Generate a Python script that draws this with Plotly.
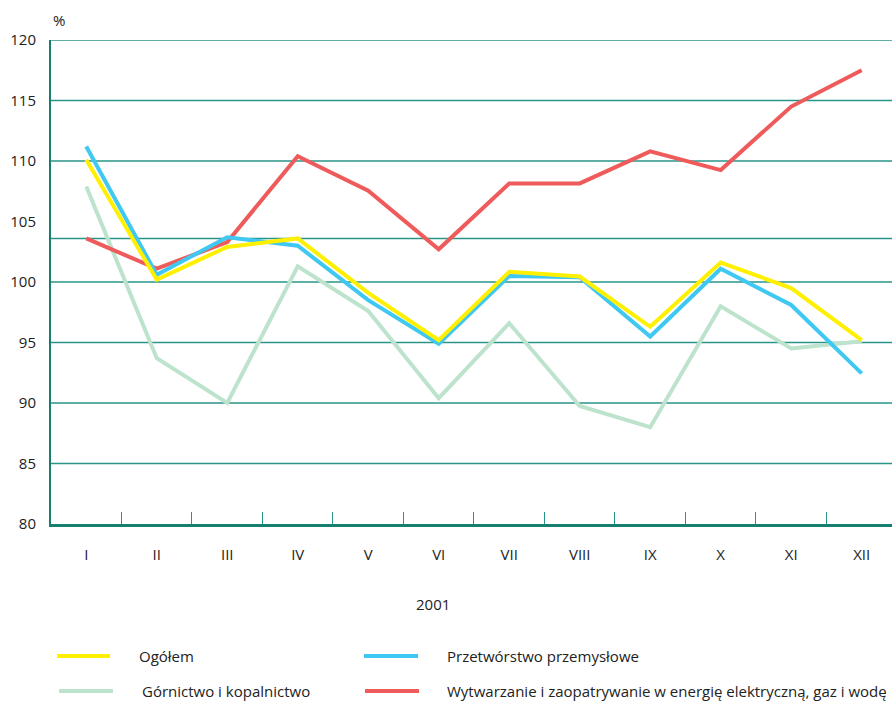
import plotly.graph_objects as go

MONTHS = ["I", "II", "III", "IV", "V", "VI", "VII", "VIII", "IX", "X", "XI", "XII"]
OGOLEM = [110.1, 100.2, 102.9, 103.6, 99.1, 95.2, 100.85, 100.45, 96.3, 101.6, 99.5, 95.2]
PRZETWORSTWO = [111.2, 100.6, 103.7, 103.0, 98.5, 94.9, 100.5, 100.4, 95.5, 101.1, 98.1, 92.45]
GORNICTWO = [107.9, 93.7, 90.0, 101.3, 97.6, 90.4, 96.6, 89.75, 88.0, 98.0, 94.5, 95.1]
WYTWARZANIE = [103.6, 101.1, 103.3, 110.4, 107.55, 102.7, 108.15, 108.15, 110.8, 109.25, 114.5, 117.5]

NAMES = ["Ogółem", "Przetwórstwo przemysłowe", "Górnictwo i kopalnictwo",
         "Wytwarzanie i zaopatrywanie w energię elektryczną, gaz i wodę"]
Y_TICKS = [80, 85, 90, 95, 100, 105, 110, 115, 120]
GRID_LINES = [85, 90, 95, 100, 103.6, 110, 115, 120]

C_YELLOW = "#fff000"
C_BLUE = "#3ec8f2"
C_GREEN = "#bde3cd"
C_RED = "#ef5b5b"
TEAL = "#2a9488"
TEAL_DARK = "#168070"
FONT = "Open Sans, sans-serif"
FS = 15
TXT = "#222"

fig = go.Figure()
series = [
    (GORNICTWO, C_GREEN, NAMES[2]),
    (WYTWARZANIE, C_RED, NAMES[3]),
    (PRZETWORSTWO, C_BLUE, NAMES[1]),
    (OGOLEM, C_YELLOW, NAMES[0]),
]
for vals, col, nm in series:
    fig.add_trace(go.Scatter(x=MONTHS, y=vals, mode="lines", name=nm,
                             line=dict(color=col, width=4), showlegend=False,
                             cliponaxis=False))

shapes = []
for g in GRID_LINES:
    shapes.append(dict(type="line", xref="paper", yref="y", x0=0, x1=1, y0=g, y1=g,
                       line=dict(color=TEAL, width=1.5), layer="below"))

# custom legend (pixel positions converted to paper coords)
L, T, W, H = 51, 40, 841, 484
def px(x):
    return (x - L) / W
def py(y):
    return (T + H - y) / H

legend_items = [
    (C_YELLOW, NAMES[0], 57, 110, 137, 656),
    (C_BLUE, NAMES[1], 364, 418, 445, 656),
    (C_GREEN, NAMES[2], 59, 113, 140, 691),
    (C_RED, NAMES[3], 365, 419, 445, 691),
]
annotations = []
for col, nm, x0, x1, tx, yy in legend_items:
    shapes.append(dict(type="line", xref="paper", yref="paper", x0=px(x0), x1=px(x1),
                       y0=py(yy), y1=py(yy), line=dict(color=col, width=4)))
    annotations.append(dict(xref="paper", yref="paper", x=px(tx), y=py(yy), text=nm,
                            showarrow=False, xanchor="left", yanchor="middle",
                            font=dict(family=FONT, size=FS, color=TXT)))

annotations.append(dict(xref="paper", yref="paper", x=px(433), y=py(604), text="2001",
                        showarrow=False, xanchor="center", yanchor="middle",
                        font=dict(family=FONT, size=FS, color=TXT)))
annotations.append(dict(xref="paper", yref="paper", x=px(51), y=py(20), text="%",
                        showarrow=False, xanchor="left", yanchor="middle",
                        font=dict(family=FONT, size=FS, color=TXT)))

fig.update_layout(
    width=892, height=704,
    margin=dict(l=L, r=0, t=T, b=704 - T - H),
    paper_bgcolor="white", plot_bgcolor="white",
    font=dict(family=FONT, size=FS, color=TXT),
    shapes=shapes, annotations=annotations,
    xaxis=dict(type="category", range=[-0.5, 11.43], showgrid=False,
               showline=True, linecolor=TEAL_DARK, linewidth=3,
               ticks="inside", tickson="boundaries", ticklen=12, tickwidth=1,
               tickcolor=TEAL, ticklabelstandoff=15, zeroline=False),
    yaxis=dict(range=[80, 120], tickvals=Y_TICKS, showgrid=False, zeroline=False,
               showline=True, linecolor=TEAL_DARK, linewidth=2,
               ticks="", ticklabelstandoff=10),
)

fig.write_html("out.html", config={"displayModeBar": False},
               post_script="document.body.style.margin='0px';")
